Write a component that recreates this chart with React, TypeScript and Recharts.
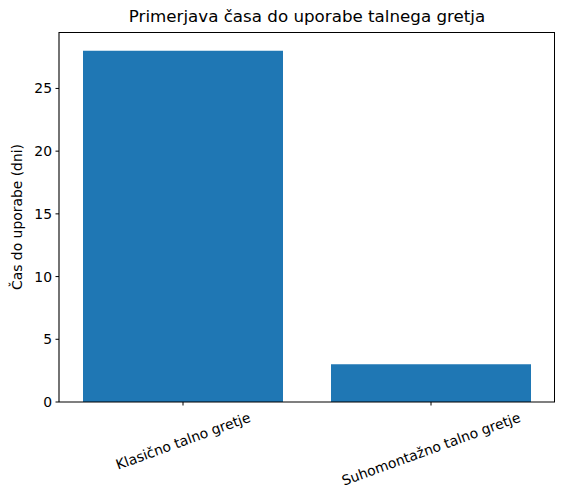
import React from 'react';
import { BarChart, Bar, XAxis, YAxis, Label } from 'recharts';

const categories = ['Klasično talno gretje', 'Suhomontažno talno gretje'];
const days = [28, 3];
const yTicks = [0, 5, 10, 15, 20, 25];

const chartData = categories.map((name, i) => ({ name, days: days[i] }));

const FONT = '"DejaVu Sans", sans-serif';
const TICK_SIZE = 13.9;
const ANGLE = 20;

let ctx: CanvasRenderingContext2D | null = null;
const measure = (s: string) => {
  if (!ctx) ctx = document.createElement('canvas').getContext('2d');
  if (!ctx) return s.length * 7.3;
  ctx.font = `${TICK_SIZE}px "DejaVu Sans"`;
  return ctx.measureText(s).width;
};

const RotatedTick = (props: any) => {
  const { x, y, payload } = props;
  const text = String(payload.value);
  const w = measure(text);
  const rad = (ANGLE * Math.PI) / 180;
  const boxH = w * Math.sin(rad) + 16 * Math.cos(rad);
  const cy = y + boxH / 2;
  return (
    <text
      x={x}
      y={cy}
      textAnchor="middle"
      dominantBaseline="central"
      transform={`rotate(${-ANGLE} ${x} ${cy})`}
      fontSize={TICK_SIZE}
      fontFamily={FONT}
      fill="#000"
    >
      {text}
    </text>
  );
};

const App: React.FC = () => {
  return (
    <div style={{ position: 'absolute', left: 0, top: 0, width: 565, height: 500, background: '#fff' }}>
      <div
        style={{
          position: 'absolute',
          left: 59,
          width: 496,
          top: 6,
          textAlign: 'center',
          fontFamily: FONT,
          fontSize: 16.7,
          color: '#000',
        }}
      >
        Primerjava časa do uporabe talnega gretja
      </div>
      <BarChart
        width={565}
        height={500}
        data={chartData}
        margin={{ top: 32, right: 10, left: 0, bottom: 0 }}
        barSize={200}
      >
        <XAxis
          dataKey="name"
          height={98}
          interval={0}
          tickSize={3.5}
          tickMargin={3.5}
          axisLine={{ stroke: '#000', strokeWidth: 1.1 }}
          tickLine={{ stroke: '#000' }}
          tick={<RotatedTick />}
        />
        <YAxis
          width={59}
          domain={[0, 29.5]}
          ticks={yTicks}
          tickSize={3.5}
          tickMargin={3.5}
          axisLine={{ stroke: '#000', strokeWidth: 1.1 }}
          tickLine={{ stroke: '#000' }}
          tick={{ fill: '#000', fontSize: TICK_SIZE, fontFamily: FONT }}
        >
          <Label
            content={({ viewBox }: any) => {
              const cx = 17;
              const cy = viewBox.y + viewBox.height / 2;
              return (
                <text
                  x={cx}
                  y={cy}
                  textAnchor="middle"
                  dominantBaseline="central"
                  transform={`rotate(-90 ${cx} ${cy})`}
                  fontSize={TICK_SIZE}
                  fontFamily={FONT}
                  fill="#000"
                >
                  Čas do uporabe (dni)
                </text>
              );
            }}
          />
        </YAxis>
        <Bar dataKey="days" fill="#1f77b4" isAnimationActive={false} />
      </BarChart>
      {/* top and right spines */}
      <div
        style={{
          position: 'absolute',
          left: 59,
          top: 32,
          width: 496,
          height: 370,
          borderTop: '1px solid #000',
          borderRight: '1px solid #000',
          boxSizing: 'border-box',
          pointerEvents: 'none',
        }}
      />
    </div>
  );
};

export default App;
